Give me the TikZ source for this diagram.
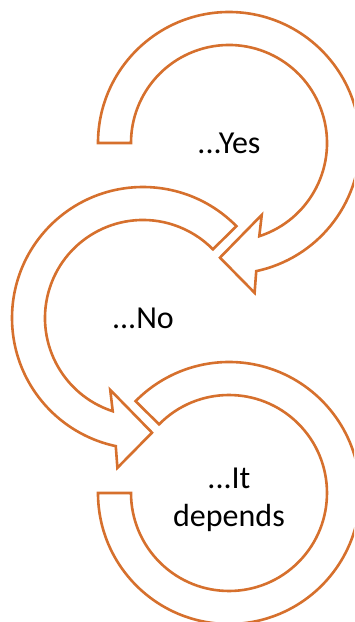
\documentclass[tikz,border=0pt]{standalone}
\usepackage{fontspec}
\setmainfont{Carlito}
\definecolor{loopline}{RGB}{214,112,45}

\begin{document}
\begin{tikzpicture}[x=1pt,y=1pt,line join=miter]
		\tikzstyle{band}=[draw=loopline,fill=white,line width=2.6pt]
		\tikzstyle{answer}=[font=\fontsize{32}{38}\selectfont,align=center,inner sep=0pt]
		\clip (0,0) rectangle (354,622);
		\coordinate (c1) at (229,479);
		\coordinate (c2) at (143,304);
		\coordinate (c3) at (229,129);

		\draw[band,shift={(c3)}] (180:131) arc[start angle=180,end angle=495.5,radius=131]
			-- (135.5:98) arc[start angle=495.5,end angle=180,radius=98] -- cycle;
		\draw[band,shift={(c2)}] (44.5:131) arc[start angle=44.5,end angle=258,radius=131]
			-- (260.3:152) -- (274.5:115) -- (245.5:79) -- (252:98)
			arc[start angle=252,end angle=44.5,radius=98] -- cycle;
		\draw[band,shift={(c1)}] (180:131) arc[start angle=180,end angle=-78,radius=131]
			-- (-80.3:152) -- (-94.5:115) -- (-65.5:79) -- (-72:98)
			arc[start angle=-72,end angle=180,radius=98] -- cycle;

		\node[answer] (yes) at (c1) {...Yes};
		\node[answer] (no) at (c2) {...No};
		\node[answer] (depends) at ([yshift=-7]c3) {...It\\depends};
\end{tikzpicture}
\end{document}
